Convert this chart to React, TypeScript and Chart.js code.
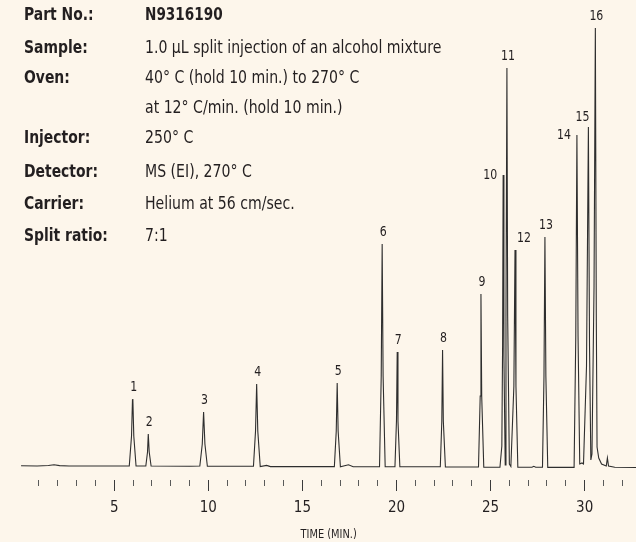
import React, { useEffect, useRef } from 'react';
import { Chart, registerables } from 'chart.js';

Chart.register(...registerables);

// ---- Chromatogram trace (time in minutes, detector signal) ----
const traceTimes = [
  0.05, 0.9, 1.5, 1.8, 2.1, 2.6, 5.0,
  5.80, 5.92, 5.97, 5.99, 6.04, 6.16,
  6.68, 6.77, 6.81, 6.86, 6.96,
  9.0, 9.55, 9.68, 9.75, 9.82, 9.95,
  12.40, 12.51, 12.57, 12.63, 12.76, 13.1, 13.3,
  16.0, 16.70, 16.80, 16.85, 16.90, 17.02, 17.45, 17.7,
  19.10, 19.19, 19.24, 19.29, 19.40,
  19.92, 20.00, 20.04, 20.08, 20.18,
  22.33, 22.41, 22.45, 22.49, 22.60,
  24.36, 24.45, 24.49, 24.53, 24.64,
  25.50, 25.60, 25.64, 25.67, 25.71, 25.78, 25.82, 25.87, 25.91, 26.00, 26.08,
  26.24, 26.30, 26.35, 26.45,
  27.20, 27.30, 27.40,
  27.76, 27.84, 27.89, 27.94, 28.04,
  29.44, 29.53, 29.59, 29.65, 29.74, 29.86, 29.94,
  30.10, 30.20, 30.26, 30.33, 30.39,
  30.50, 30.57, 30.62, 30.66, 30.75, 30.90,
  31.15, 31.21, 31.27, 31.60, 32.73,
];
const traceSignal = [
  0.3, 0, 0.5, 1.2, 0.4, 0, 0,
  0, 30, 66, 67, 30, 0,
  0, 14, 32, 14, 0,
  -0.2, 0, 22, 54, 22, -0.2,
  -0.3, 35, 82, 35, -0.5, 0.6, -0.6,
  -0.6, -0.6, 35, 83, 35, -0.7, 1.2, -0.7,
  -0.7, 90, 222, 90, -0.7,
  -0.7, 45, 114, 45, -0.8,
  -0.8, 45, 116, 45, -1,
  -1, 70, 172, 70, -1.2,
  -1.2, 20, 120, 291, 110, 1, 150, 398, 150, 2, -0.5,
  80, 216, 80, -1.3,
  -1.3, -0.3, -1.3,
  -1.3, 90, 229, 90, -1.4,
  -1.4, 130, 331, 130, 2, 3, 2,
  100, 339, 120, 6, 12,
  180, 438, 150, 19, 8, 2,
  0, 8, 0, -1.3, -1.5,
];

// ---- Peak labels ----
const peakNumbers = ['1', '2', '3', '4', '5', '6', '7', '8', '9', '10', '11', '12', '13', '14', '15', '16'];
const peakTimes = [5.99, 6.81, 9.75, 12.57, 16.85, 19.24, 20.04, 22.45, 24.49, 25.67, 25.87, 26.30, 27.89, 29.59, 30.20, 30.57];
const peakHeights = [67, 32, 54, 82, 83, 222, 114, 116, 172, 291, 398, 216, 229, 331, 339, 438];
const labelPlacement = ['above', 'above', 'above', 'above', 'above', 'above', 'above', 'above', 'above', 'left', 'above', 'aboveRight', 'above', 'left', 'aboveLeft', 'above'];

// ---- Axis ----
const tickValues = [1, 2, 3, 4, 5, 6, 7, 8, 9, 10, 11, 12, 13, 14, 15, 16, 17, 18, 19, 20, 21, 22, 23, 24, 25, 26, 27, 28, 29, 30, 31, 32];
const majorTickLabels = ['5', '10', '15', '20', '25', '30'];
const xAxisTitle = 'TIME (MIN.)';

// ---- Method info block ----
const infoLabels = ['Part No.:', 'Sample:', 'Oven:', '', 'Injector:', 'Detector:', 'Carrier:', 'Split ratio:'];
const infoValues = [
  'N9316190',
  '1.0 µL split injection of an alcohol mixture',
  '40° C (hold 10 min.) to 270° C',
  'at 12° C/min. (hold 10 min.)',
  '250° C',
  'MS (EI), 270° C',
  'Helium at 56 cm/sec.',
  '7:1',
];
const infoBaselines = [20, 53, 83, 113, 143, 177, 209, 241];

const BG = '#fdf6eb';
const INK = '#231f20';
const NARROW = '"DejaVu Sans Condensed", "Liberation Sans Narrow", sans-serif';
const SQUEEZE = 0.87;

function drawSqueezed(ctx: CanvasRenderingContext2D, text: string, x: number, y: number, sx: number) {
  ctx.save();
  ctx.translate(x, y);
  ctx.scale(sx, 1);
  ctx.fillText(text, 0, 0);
  ctx.restore();
}

const decorPlugin = {
  id: 'decor',
  beforeDraw(chart: any) {
    const { ctx, width, height } = chart;
    ctx.save();
    ctx.fillStyle = BG;
    ctx.fillRect(0, 0, width, height);
    ctx.restore();
  },
  afterDraw(chart: any) {
    const { ctx } = chart;
    const xs = chart.scales.x;
    const ys = chart.scales.y;
    ctx.save();
    ctx.fillStyle = INK;

    // Peak numbers
    ctx.font = `14px ${NARROW}`;
    ctx.textBaseline = 'middle';
    peakNumbers.forEach((lab, i) => {
      const px = xs.getPixelForValue(peakTimes[i]);
      const py = ys.getPixelForValue(peakHeights[i]);
      const p = labelPlacement[i];
      if (p === 'left') {
        ctx.textAlign = 'right';
        drawSqueezed(ctx, lab, px - 6, py, SQUEEZE);
      } else if (p === 'aboveLeft') {
        ctx.textAlign = 'right';
        drawSqueezed(ctx, lab, px + 1, py - 10, SQUEEZE);
      } else if (p === 'aboveRight') {
        ctx.textAlign = 'left';
        drawSqueezed(ctx, lab, px + 2, py - 12, SQUEEZE);
      } else {
        ctx.textAlign = 'center';
        drawSqueezed(ctx, lab, px + 1, py - 12, SQUEEZE);
      }
    });

    // Axis title
    const first = xs.getPixelForValue(tickValues[0]);
    const last = xs.getPixelForValue(tickValues[tickValues.length - 1]);
    ctx.font = `13px ${NARROW}`;
    ctx.textAlign = 'center';
    ctx.textBaseline = 'middle';
    drawSqueezed(ctx, xAxisTitle, (first + last) / 2 - 2, 535, 0.84);

    // Info block
    ctx.textAlign = 'left';
    ctx.textBaseline = 'alphabetic';
    infoLabels.forEach((lab, i) => {
      const y = infoBaselines[i];
      ctx.font = `bold 18px ${NARROW}`;
      if (lab) drawSqueezed(ctx, lab, 24, y, 0.86);
      ctx.font = `${i === 0 ? 'bold ' : ''}18px ${NARROW}`;
      drawSqueezed(ctx, infoValues[i], 145, y, i === 0 ? 0.84 : SQUEEZE);
    });
    ctx.restore();
  },
};

export default function App() {
  const ref = useRef<HTMLCanvasElement | null>(null);

  useEffect(() => {
    if (!ref.current) return;
    const chart = new Chart(ref.current, {
      type: 'line',
      data: {
        datasets: [
          {
            data: traceTimes.map((t, i) => ({ x: t, y: traceSignal[i] })),
            borderColor: '#2e2e2e',
            borderWidth: 1.1,
            pointRadius: 0,
            tension: 0,
            fill: false,
          },
        ],
      },
      options: {
        responsive: false,
        animation: false,
        devicePixelRatio: 1,
        layout: { padding: 0 },
        plugins: {
          legend: { display: false },
          tooltip: { enabled: false },
          title: { display: false },
        },
        scales: {
          x: {
            type: 'linear',
            min: -1.07,
            max: 32.73,
            afterBuildTicks: (axis: any) => {
              axis.ticks = tickValues.map((v) => ({ value: v }));
            },
            afterFit: (axis: any) => {
              axis.height = 62;
            },
            border: { display: false },
            grid: {
              drawOnChartArea: false,
              drawTicks: true,
              tickLength: 11,
              tickWidth: 1,
              tickColor: (c: any) => (c.tick && c.tick.value % 5 === 0 ? '#3a3a3a' : '#5a5a5a'),
              tickBorderDash: (c: any) => (c.tick && c.tick.value % 5 === 0 ? [] : [6, 40]),
            },
            ticks: {
              autoSkip: false,
              maxRotation: 0,
              padding: 8,
              color: INK,
              font: { family: NARROW, size: 15 },
              callback: (v: any) => (majorTickLabels.includes(String(v)) ? String(v) : ''),
            },
          },
          y: {
            display: false,
            min: -14,
            max: 466,
          },
        },
      },
      plugins: [decorPlugin],
    });
    return () => chart.destroy();
  }, []);

  return (
    <div style={{ position: 'fixed', left: 0, top: 0, width: 636, height: 542, background: BG }}>
      <canvas ref={ref} width={636} height={542} />
    </div>
  );
}
